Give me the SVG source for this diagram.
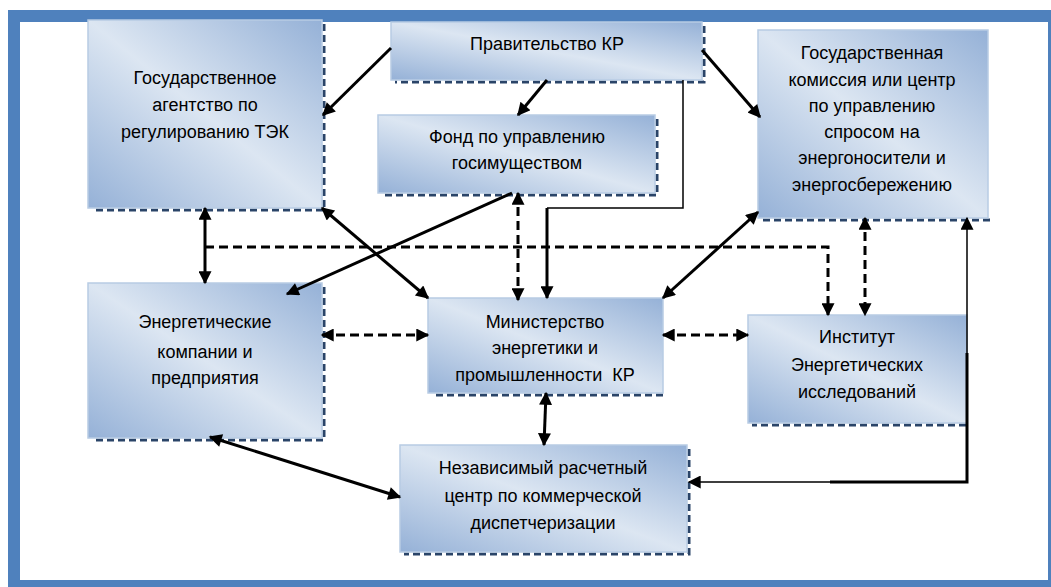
<svg xmlns="http://www.w3.org/2000/svg" width="1051" height="587" viewBox="0 0 1051 587">
<defs>
<linearGradient id="g" x1="0" y1="1" x2="1" y2="0">
<stop offset="0" stop-color="#95b1d7"/>
<stop offset="0.5" stop-color="#dce6f2"/>
<stop offset="1" stop-color="#95b1d7"/>
</linearGradient>
<marker id="ar" viewBox="0 0 10 10" refX="9" refY="5" markerWidth="15" markerHeight="13" markerUnits="userSpaceOnUse" orient="auto-start-reverse">
<path d="M0,0 L10,5 L0,10 z" fill="#000"/>
</marker>
<style>
.box{fill:url(#g);stroke:#b8cce4;stroke-width:1.5}
.sh{fill:none;stroke:#2a4468;stroke-width:3;stroke-dasharray:7,4}
.t{font-family:"Liberation Sans",Arial,sans-serif;font-size:18px;fill:#000;text-anchor:middle}
.c{fill:none;stroke:#000;stroke-width:3}
.d{fill:none;stroke:#000;stroke-width:3;stroke-dasharray:9,5}
.thin{fill:none;stroke:#000;stroke-width:1.5}
</style>
</defs>
<rect x="8" y="10" width="1043" height="577" fill="#4f81bd"/>
<rect x="20" y="22" width="1028" height="558" fill="#fff"/>

<g id="agency">
<path class="sh" d="M324,24 V210 H92"/>
<rect class="box" x="88" y="20" width="234" height="188"/>
<text class="t" x="205" y="84">Государственное</text>
<text class="t" x="205" y="111">агентство по</text>
<text class="t" x="205" y="138">регулированию ТЭК</text>
</g>

<g id="government">
<path class="sh" d="M704,26 V82 H395"/>
<rect class="box" x="391" y="22" width="311" height="58"/>
<text class="t" x="547" y="50">Правительство КР</text>
</g>

<g id="fund">
<path class="sh" d="M657,119 V195 H382"/>
<rect class="box" x="378" y="115" width="277" height="78"/>
<text class="t" x="517" y="143">Фонд по управлению</text>
<text class="t" x="517" y="169">госимуществом</text>
</g>

<g id="commission">
<path class="sh" d="M990,220 H762"/>
<rect class="box" x="758" y="30" width="230" height="188"/>
<text class="t" x="872" y="59">Государственная</text>
<text class="t" x="872" y="86">комиссия или центр</text>
<text class="t" x="872" y="112">по управлению</text>
<text class="t" x="872" y="138">спросом на</text>
<text class="t" x="872" y="164">энергоносители и</text>
<text class="t" x="872" y="191">энергосбережению</text>
</g>

<g id="energy">
<path class="sh" d="M324,287 V440 H92"/>
<rect class="box" x="88" y="283" width="234" height="155"/>
<text class="t" x="205" y="328">Энергетические</text>
<text class="t" x="205" y="358">компании и</text>
<text class="t" x="205" y="384">предприятия</text>
</g>

<g id="ministry">
<path class="sh" d="M663,395 H432"/>
<rect class="box" x="428" y="298" width="235" height="95"/>
<text class="t" x="545" y="328">Министерство</text>
<text class="t" x="545" y="354">энергетики и</text>
<text class="t" x="545" y="381" xml:space="preserve">промышленности  КР</text>
</g>

<g id="institute">
<path class="sh" d="M966,425 H752"/>
<rect class="box" x="748" y="315" width="219" height="108"/>
<text class="t" x="857" y="343">Институт</text>
<text class="t" x="857" y="371">Энергетических</text>
<text class="t" x="857" y="398">исследований</text>
</g>

<g id="settlement">
<path class="sh" d="M689,449 V554 H404"/>
<rect class="box" x="400" y="445" width="287" height="107"/>
<text class="t" x="543" y="474">Независимый расчетный</text>
<text class="t" x="543" y="502">центр по коммерческой</text>
<text class="t" x="543" y="529">диспетчеризации</text>
</g>

<g id="connectors">
<path class="c" d="M391,48 L323,115" marker-end="url(#ar)"/>
<path class="c" d="M547,80 L518,115" marker-end="url(#ar)"/>
<path class="c" d="M702,50 L760,117" marker-end="url(#ar)"/>
<path class="thin" d="M683,80 V208 H547"/>
<path class="c" d="M547,208 V298" marker-end="url(#ar)"/>
<path class="c" d="M205,208 V283" marker-start="url(#ar)" marker-end="url(#ar)"/>
<path class="d" d="M205,247 H828 V315" marker-end="url(#ar)"/>
<path class="c" d="M322,208 L428,298" marker-start="url(#ar)" marker-end="url(#ar)"/>
<path class="c" d="M512,193 L287,294" marker-end="url(#ar)"/>
<path class="d" d="M518,193 V300" marker-start="url(#ar)" marker-end="url(#ar)"/>
<path class="c" d="M663,298 L758,212" marker-start="url(#ar)" marker-end="url(#ar)"/>
<path class="d" d="M865,218 V315" marker-start="url(#ar)" marker-end="url(#ar)"/>
<path class="d" d="M322,335 H428" marker-start="url(#ar)" marker-end="url(#ar)"/>
<path class="d" d="M663,335 H748" marker-start="url(#ar)" marker-end="url(#ar)"/>
<path class="c" d="M546,393 L544,445" marker-start="url(#ar)" marker-end="url(#ar)"/>
<path class="c" d="M210,437 L400,497" marker-start="url(#ar)" marker-end="url(#ar)"/>
<path class="thin" d="M689,482 H967 V218" stroke-width="2" marker-start="url(#ar)" marker-end="url(#ar)"/>
<path class="c" d="M830,482 H967 V353"/>
</g>
</svg>
